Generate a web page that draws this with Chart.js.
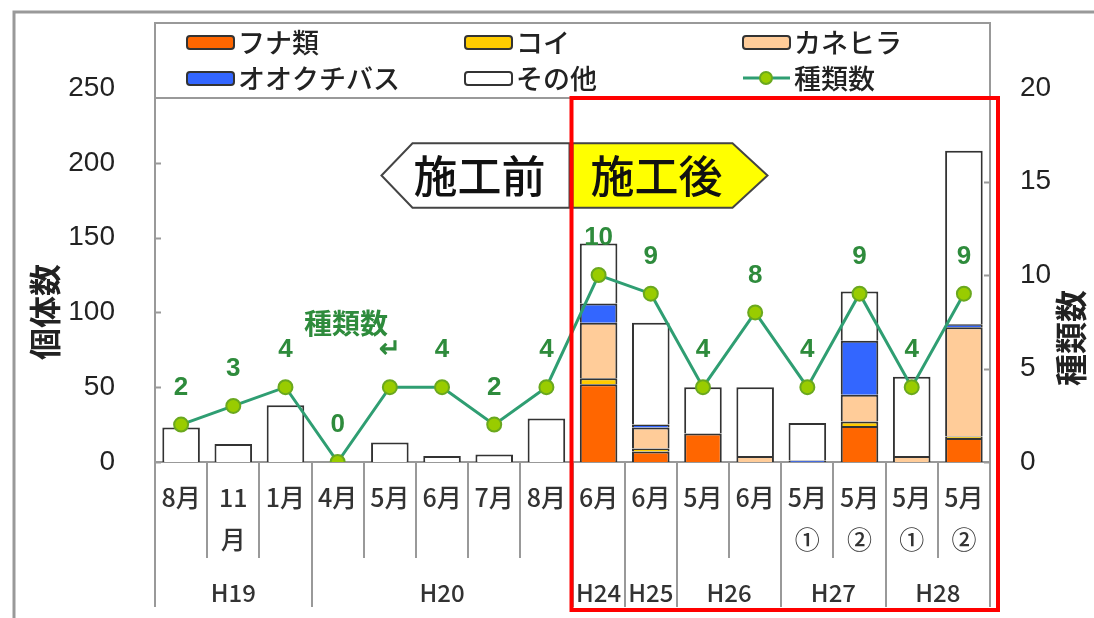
<!DOCTYPE html>
<html>
<head>
<meta charset="utf-8">
<script src="https://cdn.jsdelivr.net/npm/chart.js@4.4.0/dist/chart.umd.min.js"></script>
<style>
  body { margin: 0; background: #fff; }
  canvas { display: block; }
</style>
</head>
<body>
<canvas id="myChart" width="1094" height="618"></canvas>
<script>
// survey months (bottom row) and survey years (grouped row)
const months = ['8月', ['11', '月'], '1月', '4月', '5月', '6月', '7月', '8月',
  '6月', '6月', '5月', '6月', ['5月', '①'], ['5月', '②'], ['5月', '①'], ['5月', '②']]
const years = ['H19', 'H20', 'H24', 'H25', 'H26', 'H27', 'H28']
const yearSpans = [3, 5, 1, 1, 2, 2, 2]

// 個体数 per species group
const funa = [0, 0, 0, 0, 0, 0, 0, 0, 52, 7, 19, 0, 0, 24, 0, 16]
const koi = [0, 0, 0, 0, 0, 0, 0, 0, 4, 2, 0, 0, 0, 3, 0, 1]
const kanehira = [0, 0, 0, 0, 0, 0, 0, 0, 37, 14, 0, 4, 0, 18, 4, 73]
const bass = [0, 0, 0, 0, 0, 0, 0, 0, 13, 2, 0, 0, 1, 36, 0, 2]
const others = [23, 12, 38, 0, 13, 4, 5, 29, 40, 68, 31, 46, 25, 33, 53, 116]

// 種類数
const species = [2, 3, 4, 0, 4, 4, 2, 4, 10, 9, 4, 8, 4, 9, 4, 9]
const speciesText = ['2', '3', '4', '0', '↵', '4', '2', '4', '10', '9', '4', '8', '4', '9', '4', '9']

const JP = '"Noto Sans CJK JP", "Noto Sans", sans-serif'
const NUM = '"Liberation Sans", Arial, sans-serif'
const lineGreen = '#2f9e72'
const labelGreen = '#2e8b3c'

const noZero = arr => arr.map(v => v === 0 ? null : v)

const barSet = (label, data, color) => ({
  type: 'bar',
  label: label,
  data: noZero(data),
  backgroundColor: color,
  borderColor: '#333',
  borderWidth: 2,
  yAxisID: 'y',
  stack: 'fish',
  order: 2,
  barPercentage: 0.72,
  categoryPercentage: 1
})

const decor = {
  id: 'decor',
  beforeDraw(chart) {
    const ctx = chart.ctx
    ctx.save()
    ctx.fillStyle = '#fff'
    ctx.fillRect(0, 0, chart.width, chart.height)
    // outer frame
    ctx.strokeStyle = '#999'
    ctx.lineWidth = 3
    ctx.beginPath()
    ctx.moveTo(14, chart.height)
    ctx.lineTo(14, 12)
    ctx.lineTo(chart.width, 12)
    ctx.stroke()
    ctx.restore()
  },
  afterDatasetsDraw(chart) {
    const ctx = chart.ctx
    const area = chart.chartArea
    const x = chart.scales.x
    const y = chart.scales.y
    const y1 = chart.scales.y1
    const edge = i => i <= 0 ? area.left : i >= months.length ? area.right
      : (x.getPixelForValue(i - 1) + x.getPixelForValue(i)) / 2
    ctx.save()

    // inward ticks
    ctx.strokeStyle = '#999'
    ctx.lineWidth = 2
    y.ticks.forEach(t => {
      const py = Math.round(y.getPixelForValue(t.value)) + 0.5
      ctx.beginPath(); ctx.moveTo(area.left, py); ctx.lineTo(area.left + 6, py); ctx.stroke()
    })
    y1.ticks.forEach(t => {
      const py = Math.round(y1.getPixelForValue(t.value)) + 0.5
      ctx.beginPath(); ctx.moveTo(area.right, py); ctx.lineTo(area.right - 6, py); ctx.stroke()
    })

    // category separators below axis
    const groupEdges = [0]
    yearSpans.forEach(s => groupEdges.push(groupEdges[groupEdges.length - 1] + s))
    for (let i = 0; i <= months.length; i++) {
      const px = Math.round(edge(i))
      const long = groupEdges.includes(i)
      ctx.beginPath()
      ctx.moveTo(px, area.bottom)
      ctx.lineTo(px, long ? area.bottom + 145 : area.bottom + 96)
      ctx.stroke()
    }

    // year labels
    ctx.fillStyle = '#333'
    ctx.font = '500 24px ' + JP
    ctx.textAlign = 'center'
    ctx.textBaseline = 'middle'
    years.forEach((yr, k) => {
      const cx = (edge(groupEdges[k]) + edge(groupEdges[k + 1])) / 2
      ctx.fillText(yr, cx, area.bottom + 131)
    })

    // axis titles
    ctx.fillStyle = '#222'
    ctx.font = 'bold 32px ' + JP
    ctx.save()
    ctx.translate(45, 312)
    ctx.rotate(-Math.PI / 2)
    ctx.fillText('個体数', 0, 0)
    ctx.restore()
    ctx.save()
    ctx.translate(1071, 338)
    ctx.rotate(-Math.PI / 2)
    ctx.fillText('種類数', 0, 0)
    ctx.restore()

    // species count labels
    const lineMeta = chart.getDatasetMeta(5)
    ctx.fillStyle = labelGreen
    ctx.font = 'bold 26px ' + NUM
    lineMeta.data.forEach((pt, i) => {
      ctx.fillText(speciesText[i], pt.x, pt.y - 37)
    })
    ctx.font = 'bold 28px ' + JP
    ctx.fillText('種類数', x.getPixelForValue(3.16), y.getPixelForValue(93))

    // 施工前 / 施工後 arrows
    const split = edge(8)
    const top = y.getPixelForValue(213)
    const bot = y.getPixelForValue(170)
    const mid = (top + bot) / 2
    ctx.lineWidth = 2
    ctx.strokeStyle = '#444'
    ctx.fillStyle = '#fff'
    ctx.beginPath()
    ctx.moveTo(split - 191, mid)
    ctx.lineTo(split - 160, top)
    ctx.lineTo(split - 3, top)
    ctx.lineTo(split - 3, bot)
    ctx.lineTo(split - 160, bot)
    ctx.closePath()
    ctx.fill(); ctx.stroke()
    ctx.fillStyle = '#ffff00'
    ctx.beginPath()
    ctx.moveTo(split, top)
    ctx.lineTo(split + 160, top)
    ctx.lineTo(split + 195, mid)
    ctx.lineTo(split + 160, bot)
    ctx.lineTo(split, bot)
    ctx.closePath()
    ctx.fill(); ctx.stroke()
    ctx.fillStyle = '#111'
    ctx.font = '500 44px ' + JP
    ctx.fillText('施工前', split - 93, mid + 1)
    ctx.fillText('施工後', split + 84, mid + 1)

    // legend box
    ctx.fillStyle = '#fff'
    ctx.fillRect(area.left, 23, area.right - area.left, 75)
    ctx.strokeStyle = '#999'
    ctx.lineWidth = 2
    ctx.strokeRect(area.left, 23, area.right - area.left, 75)
    const cols = [187, 465, 743]
    const rows = [42, 78]
    ctx.font = '500 27px ' + JP
    ctx.textAlign = 'left'
    chart.data.datasets.forEach((ds, i) => {
      const cx = cols[i % 3]
      const cy = rows[Math.floor(i / 3)]
      if (ds.type === 'line') {
        ctx.strokeStyle = ds.borderColor
        ctx.lineWidth = 3
        ctx.beginPath(); ctx.moveTo(cx, cy); ctx.lineTo(cx + 47, cy); ctx.stroke()
        ctx.fillStyle = ds.pointBackgroundColor
        ctx.strokeStyle = ds.pointBorderColor
        ctx.lineWidth = 2
        ctx.beginPath(); ctx.arc(cx + 23, cy, 6, 0, Math.PI * 2); ctx.fill(); ctx.stroke()
      } else {
        ctx.fillStyle = ds.backgroundColor
        ctx.strokeStyle = '#333'
        ctx.lineWidth = 2
        ctx.beginPath()
        ctx.roundRect(cx, cy - 6, 47, 13, 3)
        ctx.fill(); ctx.stroke()
      }
      ctx.fillStyle = '#222'
      ctx.fillText(ds.label, cx + 51, cy + 1)
    })

    // red frame around after-construction surveys
    ctx.strokeStyle = '#ff0000'
    ctx.lineWidth = 4
    ctx.strokeRect(split - 1, 98, area.right + 8 - split + 1, 512)
    ctx.restore()
  }
}

new Chart(document.getElementById('myChart'), {
  data: {
    labels: months,
    datasets: [
      barSet('フナ類', funa, '#ff6600'),
      barSet('コイ', koi, '#ffcc00'),
      barSet('カネヒラ', kanehira, '#ffcc99'),
      barSet('オオクチバス', bass, '#3366ff'),
      barSet('その他', others, '#ffffff'),
      {
        type: 'line',
        label: '種類数',
        data: species,
        yAxisID: 'y1',
        borderColor: lineGreen,
        borderWidth: 3,
        pointRadius: 7,
        pointBorderWidth: 2,
        pointBackgroundColor: '#99cc00',
        pointBorderColor: '#6aa81e',
        order: 1
      }
    ]
  },
  options: {
    responsive: false,
    animation: false,
    layout: { padding: { top: 88, left: 0, right: 0, bottom: 0 } },
    plugins: {
      legend: { display: false },
      tooltip: { enabled: false }
    },
    scales: {
      x: {
        stacked: true,
        grid: { display: false },
        border: { color: '#999', width: 2 },
        ticks: {
          color: '#333',
          padding: 6,
          maxRotation: 0,
          autoSkip: false,
          font: { family: JP, size: 25, weight: '500', lineHeight: 1.7 }
        },
        afterFit: s => { s.height = 156 }
      },
      y: {
        stacked: true,
        position: 'left',
        min: 0,
        max: 250,
        grid: { display: false },
        border: { color: '#999', width: 2 },
        ticks: {
          stepSize: 50,
          color: '#222',
          padding: 32,
          font: { family: NUM, size: 28 }
        },
        afterFit: s => { s.width = 155 }
      },
      y1: {
        position: 'right',
        min: 0,
        max: 20,
        grid: { display: false },
        border: { color: '#999', width: 2 },
        ticks: {
          stepSize: 5,
          color: '#222',
          padding: 22,
          font: { family: NUM, size: 28 }
        },
        afterFit: s => { s.width = 104 }
      }
    }
  },
  plugins: [decor]
})
</script>
</body>
</html>
